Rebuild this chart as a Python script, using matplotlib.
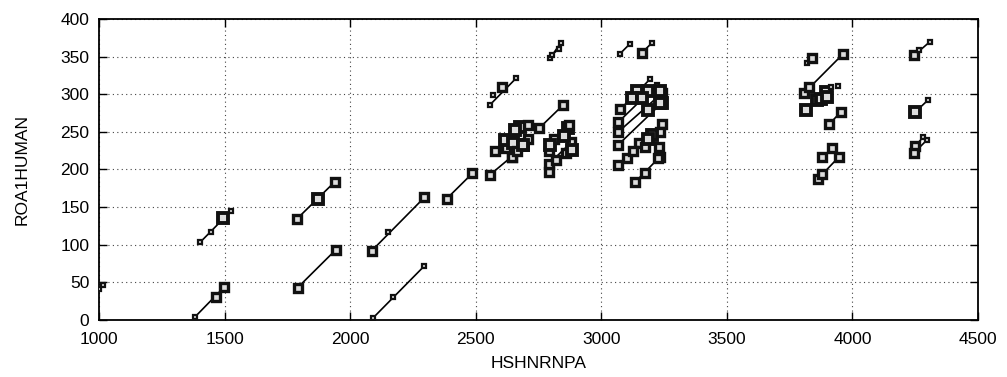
import matplotlib
matplotlib.use("Agg")
import matplotlib.pyplot as plt

plt.rcParams['font.family'] = ['Liberation Sans', 'DejaVu Sans']

# diagonal hits : start x, start y, end x, end y, score of the end points
seg_x0 = [1000, 1402, 1382, 1787, 1791, 2086, 2092, 2384, 2557, 2753,
          2557, 2577, 2620, 2643, 2796, 2802, 2790, 2790, 2790, 2810,
          3075, 3068, 3068, 3068, 3068, 3101, 3134, 3175, 3075, 3161,
          3818, 3809, 3815, 3907, 3861, 3880, 4247, 4249, 4249, 4245]
seg_y0 = [41, 103, 4, 134, 43, 92, 3, 161, 286, 255,
          193, 224, 229, 217, 348, 352, 197, 207, 224, 240,
          280, 263, 250, 233, 206, 215, 183, 230, 354, 355,
          341, 302, 279, 260, 187, 216, 352, 276, 231, 222]
seg_x1 = [1016, 1526, 1499, 1940, 1942, 2296, 2296, 2487, 2660, 2849,
          2643, 2676, 2709, 2690, 2838, 2830, 2860, 2880, 2869, 2870,
          3194, 3220, 3240, 3240, 3150, 3240, 3234, 3234, 3114, 3201,
          3841, 3964, 3895, 3955, 3947, 3917, 4309, 4300, 4282, 4296]
seg_y1 = [47, 145, 44, 184, 93, 163, 72, 195, 321, 286,
          217, 257, 259, 233, 368, 360, 222, 236, 255, 259,
          320, 312, 301, 288, 235, 261, 217, 250, 367, 368,
          348, 354, 303, 277, 217, 228, 370, 292, 243, 239]
seg_s0 = [1, 1, 1, 2, 2, 2, 1, 2, 1, 2,
          2, 2, 2, 2, 1, 1, 2, 2, 2, 2,
          2, 2, 2, 2, 2, 2, 2, 2, 1, 2,
          1, 2, 3, 2, 2, 2, 2, 3, 2, 2]
seg_s1 = [1, 1, 2, 2, 2, 2, 1, 2, 1, 2,
          2, 3, 2, 3, 1, 1, 2, 2, 3, 2,
          1, 1, 2, 3, 2, 2, 2, 2, 1, 1,
          2, 2, 3, 2, 2, 2, 1, 1, 1, 1]

# extra hit points along / around the diagonals
pt_x = [1445, 1495, 1466, 1871, 2152, 2172, 2603, 2570, 2657, 2617,
        2650, 2663, 2709, 2690, 2882, 2796, 2850, 2820,
        3141, 3188, 3234, 3121, 3161, 3234, 3188, 3201, 3188, 3227,
        3231, 3174, 3128, 3828, 3858, 3875, 3897, 3915, 3941, 3877, 4266]
pt_y = [117, 135, 31, 161, 117, 30, 310, 299, 252, 239,
        235, 224, 241, 233, 226, 232, 245, 212,
        304, 304, 304, 295, 295, 288, 279, 246, 240, 215,
        230, 195, 224, 309, 292, 294, 296, 310, 311, 194, 359]
pt_s = [1, 3, 2, 3, 1, 1, 2, 1, 3, 3,
        3, 2, 2, 3, 3, 3, 3, 2,
        3, 3, 3, 3, 3, 3, 3, 3, 3, 2,
        2, 2, 2, 2, 3, 3, 3, 1, 1, 2, 1]

x_ticks = [1000, 1500, 2000, 2500, 3000, 3500, 4000, 4500]
y_ticks = [0, 50, 100, 150, 200, 250, 300, 350, 400]

msize = {1: 3.5, 2: 5.5, 3: 7}
mew = {1: 1.6, 2: 2.4, 3: 2.8}

fig = plt.figure(figsize=(10.07, 3.77), dpi=100)
ax = fig.add_axes([0.0983, 0.1512, 0.8729, 0.7984])

for i in range(len(seg_x0)):
    ax.plot([seg_x0[i], seg_x1[i]], [seg_y0[i], seg_y1[i]], '-', color='black', lw=1.2, zorder=3)
    for x, y, s in ((seg_x0[i], seg_y0[i], seg_s0[i]), (seg_x1[i], seg_y1[i], seg_s1[i])):
        ax.plot(x, y, 's', ms=msize[s], mfc='#dddddd', mec='#111111', mew=mew[s], zorder=4)
for x, y, s in zip(pt_x, pt_y, pt_s):
    ax.plot(x, y, 's', ms=msize[s], mfc='#dddddd', mec='#111111', mew=mew[s], zorder=4)

ax.set_xlim(1000, 4500)
ax.set_ylim(0, 400)
ax.set_xticks(x_ticks)
ax.set_yticks(y_ticks)
ax.grid(True, color='#444444', linestyle=(0, (1, 3)), lw=0.8)
ax.tick_params(direction='in', top=True, right=True, length=6, width=1, labelsize=12.5)
ax.tick_params(axis='x', pad=9)
ax.tick_params(axis='y', pad=7)
for sp in ax.spines.values():
    sp.set_linewidth(1.3)
ax.set_xlabel("HSHNRNPA", fontsize=12.5, labelpad=6)
ax.set_ylabel("ROA1HUMAN", fontsize=12.5, labelpad=22)

fig.savefig("out.png", dpi=100)
